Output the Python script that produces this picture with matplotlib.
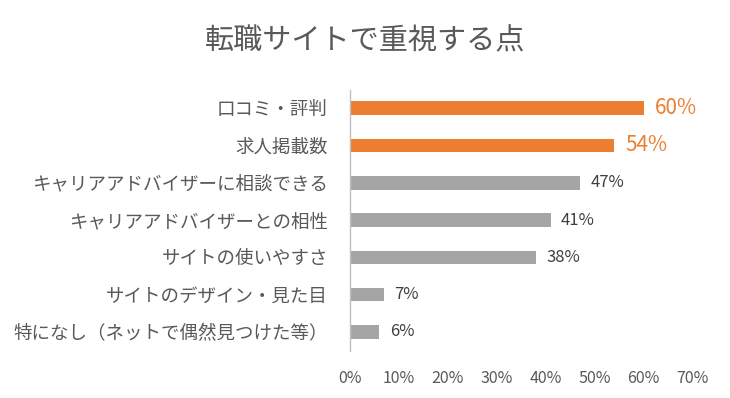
import matplotlib
matplotlib.use("Agg")
import matplotlib.pyplot as plt

plt.rcParams['font.family'] = ['Noto Sans CJK JP', 'DejaVu Sans']

categories = ["口コミ・評判", "求人掲載数", "キャリアアドバイザーに相談できる",
              "キャリアアドバイザーとの相性", "サイトの使いやすさ",
              "サイトのデザイン・見た目", "特になし（ネットで偶然見つけた等）"]
values = [60, 54, 47, 41, 38, 7, 6]
highlight = [True, True, False, False, False, False, False]
xticks = [0, 10, 20, 30, 40, 50, 60, 70]
title = "転職サイトで重視する点"

ORANGE = "#ED7D31"
GRAY = "#A5A5A5"
TEXT = "#595959"

fig = plt.figure(figsize=(7.3, 3.98), dpi=100)
ax = fig.add_axes([0.4795, 0.119, 0.4695, 0.656])

ypos = list(range(len(categories)))
colors = [ORANGE if h else GRAY for h in highlight]
ax.barh(ypos, values, height=0.36, color=colors, edgecolor='none')
for y, v, h in zip(ypos, values, highlight):
    if h:
        ax.text(v + 2.3, y, f"{v}%", va='center', ha='left', fontsize=15, color=ORANGE)
    else:
        ax.text(v + 2.1, y, f"{v}%", va='center', ha='left', fontsize=12, color="#404040")

ax.set_ylim(len(categories) - 0.5, -0.5)
ax.set_xlim(0, 70)
ax.set_yticks(ypos)
ax.set_yticklabels(categories, fontsize=13.3, color=TEXT)
ax.set_xticks(xticks)
ax.set_xticklabels([f"{t}%" for t in xticks], fontsize=11.5, color=TEXT)
ax.tick_params(axis='both', length=0)
ax.tick_params(axis='y', pad=16)
ax.tick_params(axis='x', pad=14)
for s in ['top', 'right', 'bottom']:
    ax.spines[s].set_visible(False)
ax.spines['left'].set_color('#BFBFBF')
ax.spines['left'].set_linewidth(1.0)

fig.text(0.5, 0.895, title, ha='center', va='center', fontsize=21, color=TEXT)

fig.savefig("out.png", dpi=100, facecolor='white')
